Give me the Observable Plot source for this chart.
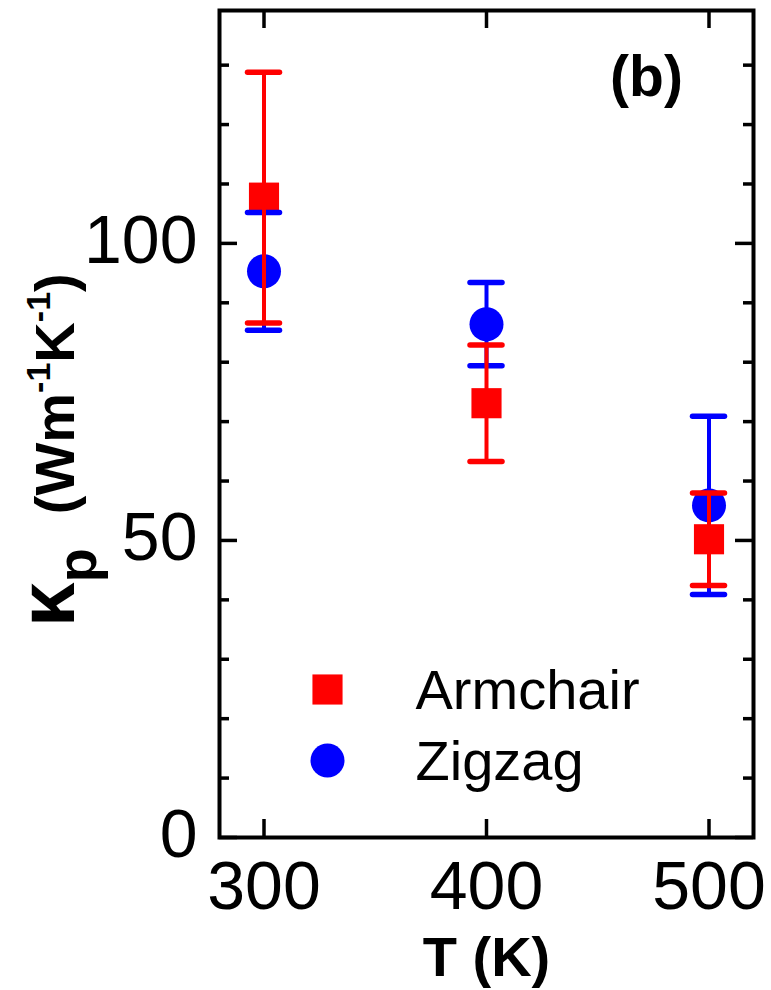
<!DOCTYPE html>
<html>
<head>
<meta charset="utf-8">
<script src="https://cdn.jsdelivr.net/npm/d3@7"></script>
<script src="https://cdn.jsdelivr.net/npm/@observablehq/plot@0.6"></script>
<style>
  html, body { margin: 0; padding: 0; background: #fff; }
  #chart { width: 771px; height: 990px; overflow: hidden; }
</style>
</head>
<body>
<div id="chart"></div>
<script>
// ---- data ----
const temperatures = [300, 400, 500];
const armchair = [107.7, 73.1, 50.2];
const armchairErr = [21.1, 9.8, 7.8];
const zigzag = [95.3, 86.4, 55.9];
const zigzagErr = [9.9, 7.0, 15.0];
const seriesNames = ["Armchair", "Zigzag"];
const seriesColors = ["#ff0000", "#0000ff"];
const seriesSymbols = ["square", "circle"];
const xTicks = [300, 400, 500];
const yMajorTicks = [0, 50, 100];
const yMinorTicks = [10, 20, 30, 40, 60, 70, 80, 90, 110, 120, 130];

// ---- layout ----
const W = 771, H = 990;
const mL = 219, mR = 18, mT = 10, mB = 153;
const plotW = W - mL - mR, plotH = H - mT - mB;
const font = "'Liberation Sans', Arial, Helvetica, sans-serif";

const arm = temperatures.map((t, i) => ({T: t, v: armchair[i], e: armchairErr[i]}));
const zig = temperatures.map((t, i) => ({T: t, v: zigzag[i], e: zigzagErr[i]}));

function errorBars(rows, color) {
  return [
    Plot.ruleX(rows, {x: "T", y1: d => d.v - d.e, y2: d => d.v + d.e, stroke: color, strokeWidth: 4}),
    Plot.ruleY(rows, {y: d => d.v + d.e, x1: "T", x2: "T", insetLeft: -16, insetRight: -16, stroke: color, strokeWidth: 5.5, strokeLinecap: "round"}),
    Plot.ruleY(rows, {y: d => d.v - d.e, x1: "T", x2: "T", insetLeft: -16, insetRight: -16, stroke: color, strokeWidth: 5.5, strokeLinecap: "round"})
  ];
}

// legend rows (offsets from the top-left corner of the frame)
const legendDy = [679, 750];
function legendEntry(i) {
  return [
    Plot.dot([seriesNames[i]], {frameAnchor: "top-left", dx: 108, dy: legendDy[i], r: 17,
      symbol: seriesSymbols[i], fill: seriesColors[i], stroke: "none"}),
    Plot.text([seriesNames[i]], {frameAnchor: "top-left", dx: 196, dy: legendDy[i] + 2, text: d => d,
      textAnchor: "start", lineAnchor: "middle", fontSize: 56, fill: "#000"})
  ];
}

const chart = Plot.plot({
  width: W, height: H,
  marginLeft: mL, marginRight: mR, marginTop: mT, marginBottom: mB,
  x: {domain: [280, 520]},
  y: {domain: [0, 139.2]},
  style: {fontFamily: font, background: "#fff", color: "#000", overflow: "visible"},
  marks: [
    Plot.axisX(xTicks, {tickSize: 0, tickPadding: 23, fontSize: 68, label: null, tickFormat: d => String(d)}),
    Plot.axisY(yMajorTicks, {tickSize: 0, tickPadding: 22, fontSize: 68, label: null, dy: -2, tickFormat: d => String(d)}),
    // inward ticks
    Plot.tickX(xTicks, {x: d => d, insetTop: plotH - 18, stroke: "#000", strokeWidth: 3.5}),
    Plot.tickX(xTicks, {x: d => d, insetBottom: plotH - 18, stroke: "#000", strokeWidth: 3.5}),
    Plot.tickY(yMajorTicks, {y: d => d, insetRight: plotW - 18, stroke: "#000", strokeWidth: 3.5}),
    Plot.tickY(yMajorTicks, {y: d => d, insetLeft: plotW - 18, stroke: "#000", strokeWidth: 3.5}),
    Plot.tickY(yMinorTicks, {y: d => d, insetRight: plotW - 10, stroke: "#000", strokeWidth: 3.5}),
    Plot.tickY(yMinorTicks, {y: d => d, insetLeft: plotW - 10, stroke: "#000", strokeWidth: 3.5}),
    Plot.frame({stroke: "#000", strokeWidth: 4}),
    // data
    Plot.dot(arm, {x: "T", y: "v", symbol: "square", r: 17, fill: seriesColors[0], stroke: "none"}),
    ...errorBars(zig, seriesColors[1]),
    Plot.dot(zig, {x: "T", y: "v", symbol: "circle", r: 17, fill: seriesColors[1], stroke: "none"}),
    ...errorBars(arm, seriesColors[0]),
    // legend
    ...legendEntry(0),
    ...legendEntry(1),
    Plot.text(["(b)"], {frameAnchor: "top-right", dx: -107, dy: 85, lineAnchor: "bottom", textAnchor: "middle", fontSize: 57, fontWeight: "bold", fill: "#000"}),
    Plot.text(["T (K)"], {frameAnchor: "bottom", dy: 138, lineAnchor: "bottom", textAnchor: "middle", fontSize: 56, fontWeight: "bold", fill: "#000"})
  ]
});

document.getElementById("chart").appendChild(chart);

// y-axis label with subscript / superscripts
const svg = d3.select(chart);
const lab = svg.append("text")
  .attr("transform", "translate(74,627) rotate(-90)")
  .attr("text-anchor", "start")
  .attr("font-family", font).attr("font-weight", "bold").attr("font-size", 56).attr("fill", "#000");
lab.append("tspan").attr("font-size", 80).text("κ");
lab.append("tspan").attr("font-size", 56).attr("dy", 22).text("p");
lab.append("tspan").attr("dy", -22).attr("dx", 34).text("(Wm");
lab.append("tspan").attr("font-size", 34).attr("dy", -24).text("-1");
lab.append("tspan").attr("dy", 24).text("K");
lab.append("tspan").attr("font-size", 34).attr("dy", -24).text("-1");
lab.append("tspan").attr("dy", 24).text(")");
</script>
</body>
</html>
